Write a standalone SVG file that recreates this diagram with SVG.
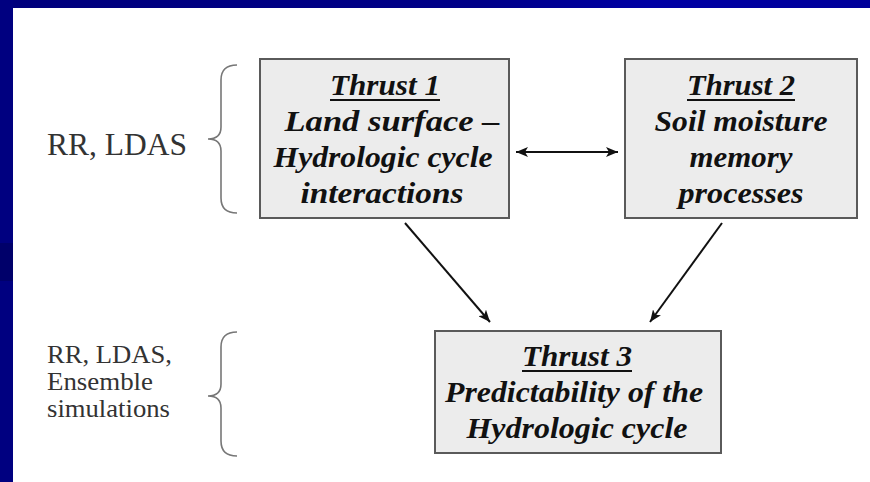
<svg xmlns="http://www.w3.org/2000/svg" width="870" height="482" viewBox="0 0 870 482">
<style>
.box{fill:#ececec;stroke:#5a5a5a;stroke-width:2}
.t{font-family:'Liberation Serif','Times New Roman',serif;font-weight:700;font-style:italic;font-size:30px;fill:#111;text-anchor:middle}
.lab{font-family:'Liberation Serif','Times New Roman',serif;fill:#333}
.ul{stroke:#111;stroke-width:2}
.brace{fill:none;stroke:#777;stroke-width:1.6}
.conn{stroke:#111;stroke-width:2;fill:none}
</style>
<defs>
<linearGradient id="band" x1="0" y1="0" x2="1" y2="0">
<stop offset="0" stop-color="#00007c"/>
<stop offset="0.55" stop-color="#000088"/>
<stop offset="0.75" stop-color="#0000a4"/>
<stop offset="1" stop-color="#00009a"/>
</linearGradient>
<marker id="ah" viewBox="0 0 12 10" refX="12" refY="5" markerWidth="12" markerHeight="10" markerUnits="userSpaceOnUse" orient="auto-start-reverse">
<path d="M0,0 L12,5 L0,10 L3,5 Z" fill="#111"/>
</marker>
</defs>
<rect x="0" y="0" width="870" height="482" fill="#ffffff"/>
<rect x="0" y="0" width="870" height="8" fill="url(#band)"/>
<rect x="0" y="0" width="13" height="482" fill="#000080"/>
<rect x="0" y="243" width="13" height="38" fill="#00006a"/>

<g id="label1">
<text class="lab" x="47" y="155" font-size="31" textLength="140" lengthAdjust="spacingAndGlyphs">RR, LDAS</text>
<path class="brace" d="M237,65 Q221,65 221,80 L221,127 Q221,139 208,139 Q221,139 221,151 L221,198 Q221,213 237,213"/>
</g>

<g id="label2">
<text class="lab" x="47" y="363" font-size="26" textLength="125" lengthAdjust="spacingAndGlyphs">RR, LDAS,</text>
<text class="lab" x="47" y="390" font-size="26" textLength="106" lengthAdjust="spacingAndGlyphs">Ensemble</text>
<text class="lab" x="47" y="417" font-size="26" textLength="123" lengthAdjust="spacingAndGlyphs">simulations</text>
<path class="brace" d="M237,332 Q221,332 221,347 L221,384 Q221,396 208,396 Q221,396 221,408 L221,441 Q221,456 237,456"/>
</g>

<g id="thrust1">
<rect class="box" x="260" y="59" width="249" height="159"/>
<text class="t" x="385" y="95" textLength="110" lengthAdjust="spacingAndGlyphs">Thrust 1</text>
<line class="ul" x1="330" y1="100" x2="440" y2="100"/>
<text class="t" x="392" y="131" textLength="215" lengthAdjust="spacingAndGlyphs">Land surface –</text>
<text class="t" x="383" y="167" textLength="219" lengthAdjust="spacingAndGlyphs">Hydrologic cycle</text>
<text class="t" x="382" y="203" textLength="163" lengthAdjust="spacingAndGlyphs">interactions</text>
</g>

<g id="thrust2">
<rect class="box" x="625" y="59" width="232" height="159"/>
<text class="t" x="741" y="95" textLength="108" lengthAdjust="spacingAndGlyphs">Thrust 2</text>
<line class="ul" x1="687" y1="100" x2="795" y2="100"/>
<text class="t" x="741" y="131" textLength="173" lengthAdjust="spacingAndGlyphs">Soil moisture</text>
<text class="t" x="741" y="167" textLength="103" lengthAdjust="spacingAndGlyphs">memory</text>
<text class="t" x="741" y="203" textLength="125" lengthAdjust="spacingAndGlyphs">processes</text>
</g>

<g id="thrust3">
<rect class="box" x="435" y="331" width="286" height="122"/>
<text class="t" x="577" y="366" textLength="110" lengthAdjust="spacingAndGlyphs">Thrust 3</text>
<line class="ul" x1="522" y1="371" x2="632" y2="371"/>
<text class="t" x="574" y="402" textLength="258" lengthAdjust="spacingAndGlyphs">Predictability of the</text>
<text class="t" x="577" y="438" textLength="221" lengthAdjust="spacingAndGlyphs">Hydrologic cycle</text>
</g>

<g id="connectors">
<line class="conn" x1="516" y1="152" x2="618" y2="152" marker-start="url(#ah)" marker-end="url(#ah)"/>
<line class="conn" x1="405" y1="223" x2="490" y2="322" marker-end="url(#ah)"/>
<line class="conn" x1="722" y1="223" x2="650" y2="322" marker-end="url(#ah)"/>
</g>
</svg>
